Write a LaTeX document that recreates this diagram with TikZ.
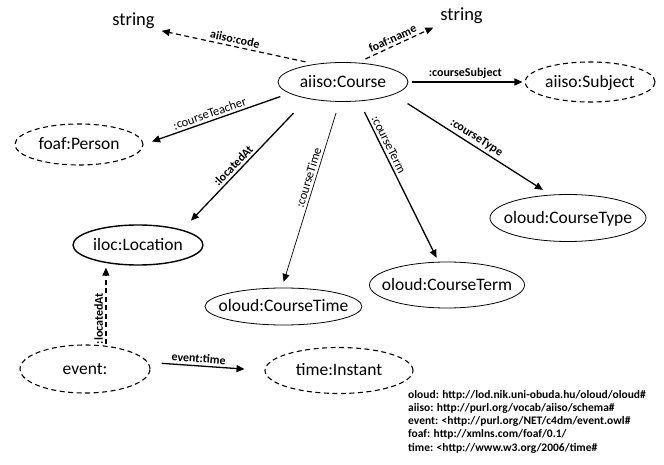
\documentclass[tikz,border=0pt]{standalone}
\usepackage{fontspec}
\setmainfont{Carlito}
\usetikzlibrary{arrows.meta,shapes.geometric}
\begin{document}
\begin{tikzpicture}[x=1pt,y=-1pt,
  ell/.style={ellipse, draw, line width=0.8pt, inner xsep=-20pt, inner ysep=0pt,
    font=\fontsize{17.5}{20}\selectfont, text height=10.6pt, text depth=0pt},
  dell/.style={ell, line width=1.1pt, dash pattern=on 5pt off 3.5pt},
  bell/.style={ell, line width=1.4pt},
  strnode/.style={inner sep=0pt, font=\fontsize{18.5}{20}\selectfont, anchor=base},
  tip/.style={-{Triangle[length=8pt,width=7pt]}},
  sedge/.style={tip, line width=1.3pt},
  tedge/.style={tip, line width=0.7pt},
  dedge/.style={tip, line width=1.2pt, dash pattern=on 5pt off 3.5pt},
  lab/.style={font=\fontsize{12.5}{14}\selectfont, sloped, above, inner sep=2.5pt},
  blab/.style={lab, font=\fontsize{12}{14}\selectfont\bfseries},
  leg/.style={inner sep=0pt, anchor=base west, font=\fontsize{11.5}{13}\selectfont\bfseries}
]
\useasboundingbox (0,0) rectangle (664,465);

% nodes
\node[ell, minimum width=130pt, minimum height=39pt] (course) at (343,82) {aiiso:Course};
\node[dell, minimum width=130pt, minimum height=40pt] (subject) at (590,82) {aiiso:Subject};
\node[dell, minimum width=128pt, minimum height=41pt] (person) at (79,144.5) {foaf:Person};
\node[bell, minimum width=130pt, minimum height=40pt] (location) at (138,245) {iloc:Location};
\node[ell, minimum width=157pt, minimum height=37pt] (ctime) at (283.5,306.5) {oloud:CourseTime};
\node[ell, minimum width=155pt, minimum height=46pt] (cterm) at (447,285) {oloud:CourseTerm};
\node[ell, minimum width=156pt, minimum height=47pt] (ctype) at (568,218) {oloud:CourseType};
\node[dell, minimum width=130pt, minimum height=48pt] (event) at (85,369) {event:};
\node[dell, minimum width=148pt, minimum height=46pt] (instant) at (339,370.5) {time:Instant};
\node[strnode] (str1) at (133.5,26) {string};
\node[strnode] (str2) at (461.5,21) {string};

% connectors
\draw[dedge, shorten <=10pt, shorten >=7pt] (course.147.4) -- (str1.south east)
  node[blab, pos=0.51] {aiiso:code};
\draw[dedge, shorten <=8.6pt, shorten >=7.5pt] (course.53.8) -- (str2.south west)
  node[blab, pos=0.46] {foaf:name};
\draw[sedge, shorten <=4pt, shorten >=2pt] (course.east) -- (subject.west)
  node[blab, pos=0.49] {:courseSubject};
\draw[sedge, shorten <=9.6pt, shorten >=9pt] (course.192.9) -- (person.east)
  node[lab, pos=0.53] {:courseTeacher};
\draw[sedge, shorten <=20pt, shorten >=12.5pt] (course.205.3) -- (location.19.1)
  node[blab, pos=0.55] {:locatedAt};
\draw[tedge, shorten <=11.7pt, shorten >=6pt] (course.260.8) -- (ctime.95.8)
  node[lab, pos=0.42] {:courseTime};
\draw[sedge, shorten <=12pt, shorten >=4.4pt] (course.310.6) -- (cterm.110.3)
  node[lab, pos=0.29] {:courseTerm};
\draw[sedge, shorten <=16.6pt, shorten >=8.9pt] (course.346.6) -- (ctype.127.5)
  node[blab, pos=0.50] {:courseType};
\draw[dedge, shorten <=1.5pt, shorten >=2pt] (event.48.8) -- (event.48.8 |- location.south)
  node[blab, pos=0.34] {:locatedAt};
\draw[sedge, shorten <=13.5pt, shorten >=20pt] (event.6) -- (instant.west)
  node[blab, pos=0.43] {event:time};

% legend
\node[leg] (leg1) at (408,398) {oloud: http://lod.nik.uni-obuda.hu/oloud/oloud\#};
\node[leg] (leg2) at (408,411.3) {aiiso: http://purl.org/vocab/aiiso/schema\#};
\node[leg] (leg3) at (408,424.6) {event: <http://purl.org/NET/c4dm/event.owl\#};
\node[leg] (leg4) at (408,437.9) {foaf: http://xmlns.com/foaf/0.1/};
\node[leg] (leg5) at (408,451.2) {time: <http://www.w3.org/2006/time\#};
\end{tikzpicture}
\end{document}
